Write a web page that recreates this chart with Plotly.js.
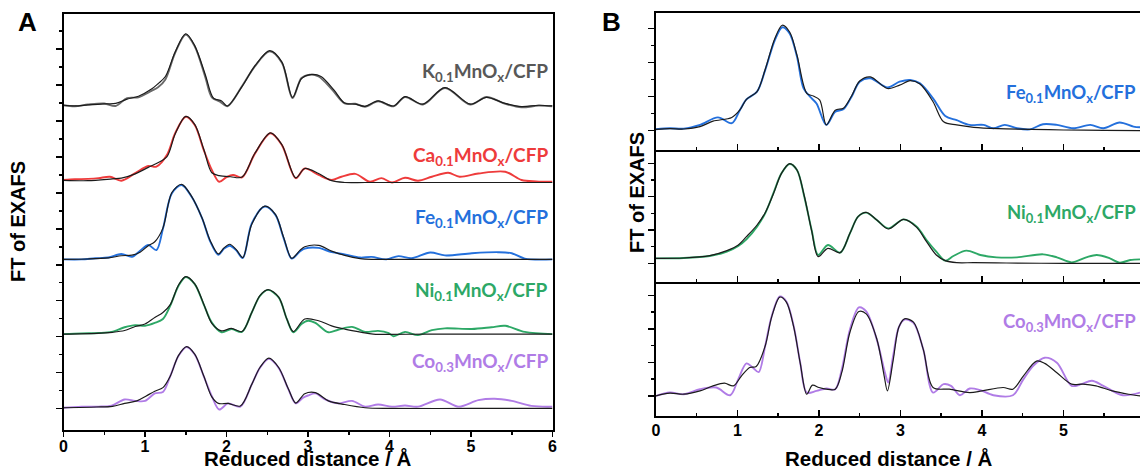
<!DOCTYPE html>
<html><head><meta charset="utf-8">
<script src="https://cdn.plot.ly/plotly-3.0.1.min.js"></script>
<style>html,body{margin:0;padding:0;background:#fff}#c{width:1140px;height:470px}</style>
</head><body><div id="c"></div>
<script>
// ---------- Panel A (stacked, offsets in arbitrary units) ----------
const samplesA = ["K", "Ca", "Fe", "Ni", "Co"];
const offsetsA = [8.44, 6.36, 4.15, 2.07, 0.02];

const aK_exp_r = [0,0.14,0.3,0.5,0.64,0.78,0.92,1.08,1.16,1.25,1.37,1.5,1.61,1.74,1.82,1.92,2.01,2.19,2.35,2.53,2.68,2.81,2.92,3.02,3.13,3.29,3.45,3.58,3.7,3.86,4.05,4.19,4.41,4.68,4.99,5.19,5.42,5.62,5.83,6.0];
const aK_exp_y = [0,-0.03,0.02,0.05,-0.02,0.2,0.22,0.4,0.5,0.72,1.46,1.97,1.64,0.78,0.22,0.1,-0.03,0.53,1.09,1.5,1.18,0.2,0.76,0.85,0.8,0.45,0.05,0.04,-0.04,0.11,-0.03,0.23,0.02,0.48,0.02,0.23,0.04,-0.06,-0.01,-0.03];
const aK_fit_r = [0,0.14,0.3,0.5,0.64,0.78,0.92,1.08,1.16,1.25,1.37,1.5,1.61,1.74,1.84,1.94,2.01,2.19,2.35,2.53,2.68,2.81,2.92,3.05,3.16,3.32,3.45,3.58,3.7,3.86,4.05,4.19,4.41,4.68,4.99,5.19,5.42,5.62,5.83,6.0];
const aK_fit_y = [0,-0.02,0.01,0.04,0.05,0.17,0.25,0.45,0.6,0.8,1.48,1.99,1.66,0.85,0.2,0.12,-0.02,0.52,1.1,1.52,1.2,0.22,0.74,0.86,0.8,0.42,0.06,0.03,-0.03,0.12,-0.02,0.24,0.03,0.49,0.03,0.22,0.05,-0.04,0.0,-0.02];

const aCa_exp_r = [0,0.14,0.3,0.43,0.57,0.71,0.88,1.04,1.14,1.27,1.37,1.5,1.61,1.72,1.82,1.91,2.0,2.08,2.19,2.35,2.54,2.68,2.85,2.96,3.13,3.29,3.41,3.58,3.76,3.9,4.03,4.19,4.35,4.52,4.72,4.86,5.09,5.42,5.62,5.8,6.0];
const aCa_exp_y = [0,0.02,0.03,0.05,0.09,-0.02,0.19,0.39,0.37,0.7,1.3,1.76,1.53,0.84,0.28,-0.05,0.08,0.14,0.07,0.74,1.3,0.97,0.05,0.32,0.14,0.0,0.09,0.17,-0.05,0.05,-0.07,0.06,-0.02,0.09,0.2,0.09,0.18,0.23,0.0,-0.04,-0.05];
const aCa_fit_r = [0,0.3,0.6,0.71,0.88,1.04,1.14,1.27,1.37,1.5,1.61,1.72,1.82,1.91,2.05,2.19,2.35,2.54,2.68,2.85,2.96,3.13,3.29,3.45,3.7,4.2,5.0,6.0];
const aCa_fit_y = [-0.01,-0.02,0.03,0.05,0.17,0.35,0.46,0.65,1.28,1.77,1.55,0.86,0.2,0.12,0.09,0.08,0.75,1.31,0.98,0.06,0.32,0.18,-0.02,-0.07,-0.07,-0.07,-0.07,-0.07];

const aFe_exp_r = [0,0.22,0.39,0.55,0.71,0.84,0.94,1.04,1.14,1.22,1.33,1.45,1.57,1.7,1.8,1.9,1.97,2.04,2.12,2.2,2.31,2.47,2.6,2.7,2.8,2.9,2.96,3.13,3.29,3.45,3.64,3.78,3.96,4.11,4.27,4.5,4.68,5.01,5.33,5.5,5.66,6.0];
const aFe_exp_y = [0,0.0,0.03,0.05,0.15,0.07,0.24,0.4,0.26,0.85,1.84,2.07,1.75,1.15,0.5,0.13,0.3,0.38,0.25,0.04,1.0,1.47,1.24,0.6,0.02,0.22,0.3,0.32,0.2,0.14,0.05,0.07,0.0,0.09,0.03,0.19,0.11,0.17,0.2,0.17,0.02,0.0];
const aFe_fit_r = [0,0.3,0.55,0.71,0.84,0.94,1.04,1.12,1.22,1.33,1.45,1.57,1.7,1.8,1.9,1.97,2.04,2.12,2.2,2.31,2.47,2.6,2.7,2.8,2.9,2.96,3.13,3.29,3.45,3.64,3.8,4.2,5.0,6.0];
const aFe_fit_y = [0,0.01,0.04,0.1,0.12,0.2,0.38,0.49,0.87,1.86,2.09,1.76,1.15,0.52,0.15,0.32,0.42,0.27,0.05,0.98,1.48,1.25,0.62,0.03,0.25,0.35,0.39,0.23,0.11,0.02,0.0,0.0,0.0,0.0];

const aNi_exp_r = [0,0.22,0.43,0.59,0.75,0.88,1.0,1.12,1.22,1.31,1.41,1.5,1.61,1.72,1.82,1.94,2.06,2.19,2.31,2.41,2.51,2.64,2.74,2.82,2.92,3.0,3.09,3.25,3.37,3.54,3.7,3.86,3.99,4.05,4.19,4.35,4.52,4.68,5.01,5.25,5.42,5.66,6.0];
const aNi_exp_y = [0,0.02,0.03,0.06,0.19,0.25,0.23,0.31,0.42,0.79,1.34,1.59,1.39,0.83,0.32,0.05,0.14,0.06,0.6,1.06,1.23,1.02,0.42,0.05,0.28,0.37,0.31,0.05,0.12,0.2,0.06,0.09,0.03,-0.06,0.06,-0.03,0.11,0.16,0.14,0.19,0.23,0.06,0.0];
const aNi_fit_r = [0,0.4,0.6,0.75,0.88,1.0,1.12,1.22,1.31,1.41,1.5,1.61,1.72,1.82,1.94,2.06,2.19,2.31,2.41,2.51,2.64,2.74,2.82,2.96,3.13,3.29,3.45,3.66,3.8,4.5,6.0];
const aNi_fit_y = [0,0.02,0.05,0.1,0.21,0.28,0.46,0.6,0.82,1.36,1.6,1.4,0.84,0.3,0.09,0.16,0.07,0.6,1.07,1.24,1.03,0.42,0.07,0.42,0.37,0.23,0.14,0.05,0.0,0.0,0.0];

const aCo_exp_r = [0,0.22,0.43,0.59,0.75,0.88,1.0,1.12,1.22,1.31,1.41,1.51,1.61,1.72,1.82,1.91,2.02,2.17,2.31,2.41,2.52,2.64,2.76,2.85,2.94,3.0,3.09,3.21,3.37,3.54,3.7,3.86,4.03,4.19,4.35,4.62,4.85,5.09,5.29,5.5,5.74,6.0];
const aCo_exp_y = [0,0.03,0.03,0.06,0.23,0.19,0.19,0.4,0.44,0.88,1.44,1.69,1.48,0.88,0.32,-0.05,0.12,0.03,0.65,1.11,1.36,1.11,0.51,0.12,0.28,0.34,0.4,0.23,0.12,0.19,0.03,0.09,0.03,0.06,0.03,0.23,0.03,0.21,0.25,0.19,0.05,0.03];
const aCo_fit_r = [0,0.4,0.6,0.75,0.9,1.01,1.12,1.22,1.31,1.41,1.51,1.61,1.72,1.82,1.9,2.02,2.17,2.31,2.41,2.52,2.64,2.76,2.85,2.96,3.09,3.25,3.45,3.7,4.0,5.0,6.0];
const aCo_fit_y = [0,0.02,0.04,0.12,0.19,0.32,0.46,0.56,0.88,1.45,1.7,1.49,0.89,0.3,0.12,0.12,0.05,0.65,1.12,1.38,1.12,0.52,0.13,0.39,0.42,0.19,0.09,0.0,-0.02,-0.02,-0.02];

// ---------- Panel B (three subplots) ----------
const bFe_exp_r = [0,0.17,0.34,0.54,0.76,0.93,1.03,1.11,1.24,1.34,1.46,1.55,1.64,1.73,1.81,1.89,1.97,2.09,2.2,2.3,2.4,2.5,2.63,2.84,2.99,3.12,3.24,3.4,3.55,3.69,3.85,4.02,4.14,4.28,4.43,4.59,4.75,4.92,5.12,5.33,5.49,5.69,5.86,5.94];
const bFe_exp_y = [0.04,0.07,0.06,0.17,0.39,0.22,0.61,0.92,1.15,1.78,2.67,3.04,2.86,2.18,1.25,1.0,0.8,0.17,0.56,0.63,1.0,1.44,1.54,1.27,1.44,1.49,1.39,0.95,0.43,0.31,0.17,0.17,0.07,0.17,0.07,0.04,0.19,0.17,0.07,0.17,0.07,0.24,0.12,0.1];
const bFe_fit_r = [0,0.17,0.34,0.54,0.7,0.93,1.03,1.11,1.24,1.34,1.46,1.55,1.64,1.73,1.85,1.93,2.01,2.09,2.2,2.3,2.4,2.5,2.63,2.84,2.99,3.12,3.24,3.4,3.53,3.69,3.9,4.2,4.6,5.0,5.5,5.94];
const bFe_fit_y = [0.04,0.06,0.05,0.12,0.28,0.39,0.61,0.92,1.15,1.8,2.72,3.1,2.9,2.22,1.1,1.02,0.9,0.17,0.6,0.66,1.02,1.46,1.58,1.24,1.34,1.47,1.37,0.85,0.26,0.17,0.1,0.06,0.04,0.02,0.01,0.0];

const bNi_exp_r = [0,0.34,0.66,0.87,1.01,1.11,1.24,1.34,1.44,1.54,1.64,1.73,1.82,1.91,1.99,2.11,2.26,2.38,2.48,2.58,2.71,2.85,3.04,3.2,3.32,3.44,3.55,3.65,3.81,3.98,4.18,4.43,4.75,4.92,5.1,5.28,5.41,5.57,5.69,5.82,5.94];
const bNi_exp_y = [0.15,0.16,0.22,0.35,0.52,0.72,1.1,1.5,2.1,2.7,2.98,2.8,2.0,1.0,0.25,0.55,0.32,0.9,1.4,1.52,1.3,1.05,1.32,1.1,0.7,0.35,0.08,0.22,0.38,0.25,0.18,0.18,0.27,0.18,0.03,0.18,0.25,0.15,0.02,0.1,0.12];
const bNi_fit_r = [0,0.34,0.66,0.87,1.01,1.11,1.24,1.34,1.44,1.54,1.64,1.73,1.82,1.91,1.99,2.11,2.26,2.38,2.48,2.58,2.71,2.85,3.04,3.2,3.32,3.44,3.55,3.69,3.9,4.3,5.0,5.94];
const bNi_fit_y = [0.15,0.16,0.23,0.38,0.55,0.8,1.15,1.52,2.08,2.7,2.99,2.8,2.02,0.98,0.2,0.45,0.32,0.9,1.4,1.53,1.3,1.03,1.32,1.08,0.65,0.25,0.08,0.02,0.02,0.01,0.0,0.0];

const bCo_exp_r = [0,0.17,0.34,0.54,0.74,0.91,1.01,1.11,1.19,1.26,1.34,1.42,1.52,1.6,1.69,1.77,1.85,1.97,2.09,2.2,2.28,2.38,2.49,2.58,2.71,2.81,2.85,2.91,2.98,3.05,3.16,3.28,3.4,3.53,3.62,3.73,3.85,3.97,4.14,4.38,4.51,4.63,4.77,4.92,5.1,5.22,5.35,5.49,5.73,5.94];
const bCo_exp_y = [0,0.1,0.05,0.2,0.25,0.02,0.5,0.97,0.84,0.71,1.49,2.38,2.97,2.82,2.08,0.99,0.1,0.15,0.22,0.2,0.79,1.98,2.64,2.52,1.68,0.69,0.4,1.19,2.05,2.28,2.18,1.39,0.1,0.35,0.3,0.02,0.22,0.18,0.02,0.02,0.5,0.9,1.14,0.99,0.3,0.35,0.45,0.3,0.02,0.1];
const bCo_fit_r = [0,0.17,0.34,0.54,0.7,0.84,0.95,1.05,1.15,1.23,1.34,1.42,1.52,1.6,1.69,1.77,1.85,1.92,2.0,2.09,2.2,2.28,2.38,2.49,2.58,2.71,2.8,2.84,2.91,2.98,3.05,3.16,3.28,3.4,3.6,3.85,4.0,4.26,4.38,4.51,4.67,4.77,4.92,5.1,5.24,5.4,5.6,5.8,5.94];
const bCo_fit_y = [0,0.08,0.05,0.15,0.3,0.38,0.3,0.6,0.85,0.88,1.49,2.36,2.95,2.8,2.06,0.98,0.05,0.32,0.25,0.2,0.2,0.7,1.9,2.52,2.45,1.7,0.6,0.15,1.05,2.05,2.3,2.2,1.39,0.25,0.2,0.1,0.15,0.25,0.2,0.6,1.04,0.97,0.69,0.35,0.35,0.3,0.15,0.05,0.0];

const labelsA = ["K<sub>0.1</sub>MnO<sub>x</sub>/CFP","Ca<sub>0.1</sub>MnO<sub>x</sub>/CFP","Fe<sub>0.1</sub>MnO<sub>x</sub>/CFP","Ni<sub>0.1</sub>MnO<sub>x</sub>/CFP","Co<sub>0.3</sub>MnO<sub>x</sub>/CFP"];
const labelsB = ["Fe<sub>0.1</sub>MnO<sub>x</sub>/CFP","Ni<sub>0.1</sub>MnO<sub>x</sub>/CFP","Co<sub>0.3</sub>MnO<sub>x</sub>/CFP"];
const xTicksA = [0, 1, 2, 3, 4, 5, 6];
const xTicksB = [0, 1, 2, 3, 4, 5];
const xTitle = "Reduced distance / Å";
const yTitle = "FT of EXAFS";

// ---------- styles ----------
const colA = ["#6a6a6a","#EE3B3B","#2470DC","#2DA866","#B07CE6"];
const txtA = ["#585858","#EE3B3B","#2470DC","#2DA866","#B07CE6"];
const colB = ["#2470DC","#2DA866","#B07CE6"];
const fitColor = "#1b1b1b";
const W = 1140, H = 470;
const px = v => v / W, py = v => 1 - v / H;

const expA = [[aK_exp_r,aK_exp_y],[aCa_exp_r,aCa_exp_y],[aFe_exp_r,aFe_exp_y],[aNi_exp_r,aNi_exp_y],[aCo_exp_r,aCo_exp_y]];
const fitA = [[aK_fit_r,aK_fit_y],[aCa_fit_r,aCa_fit_y],[aFe_fit_r,aFe_fit_y],[aNi_fit_r,aNi_fit_y],[aCo_fit_r,aCo_fit_y]];
const expB = [[bFe_exp_r,bFe_exp_y],[bNi_exp_r,bNi_exp_y],[bCo_exp_r,bCo_exp_y]];
const fitB = [[bFe_fit_r,bFe_fit_y],[bNi_fit_r,bNi_fit_y],[bCo_fit_r,bCo_fit_y]];

const traces = [];
const line = (c, w) => ({color: c, width: w, shape: 'spline', smoothing: 0.9});
samplesA.forEach((s, i) => {
  const off = offsetsA[i];
  traces.push({x: expA[i][0], y: expA[i][1].map(v => v + off), mode: 'lines', line: line(colA[i], 1.9), xaxis: 'x', yaxis: 'y', hoverinfo: 'skip'});
  traces.push({x: fitA[i][0], y: fitA[i][1].map(v => v + off), mode: 'lines', line: line(fitColor, 1.2), xaxis: 'x', yaxis: 'y', hoverinfo: 'skip'});
});
const bAxes = [['x2','y2'],['x3','y3'],['x4','y4']];
expB.forEach((d, i) => {
  traces.push({x: d[0], y: d[1], mode: 'lines', line: line(colB[i], 1.9), xaxis: bAxes[i][0], yaxis: bAxes[i][1], hoverinfo: 'skip'});
  traces.push({x: fitB[i][0], y: fitB[i][1], mode: 'lines', line: line(fitColor, 1.2), xaxis: bAxes[i][0], yaxis: bAxes[i][1], hoverinfo: 'skip'});
});

const tickFont = {family: 'Liberation Sans, Arial, sans-serif', size: 16, color: '#000', weight: 700};
const boldTxt = v => '<b>' + v + '</b>';
const baseAx = {showgrid: false, zeroline: false, showline: true, linecolor: '#000', linewidth: 2, tickcolor: '#000', tickwidth: 1.5, fixedrange: true};

const xDomA = [px(63.5), px(552.5)];
const xDomB = [px(656), 1];
const layout = {
  width: W, height: H, margin: {l: 0, r: 0, t: 0, b: 0},
  paper_bgcolor: '#fff', plot_bgcolor: '#fff', showlegend: false,
  xaxis: Object.assign({}, baseAx, {domain: xDomA, range: [0, 6], anchor: 'y', mirror: true, ticks: 'outside', ticklen: 5,
    tickmode: 'array', tickvals: xTicksA, ticktext: xTicksA.map(boldTxt), tickfont: tickFont, ticklabelstandoff: -4,
    minor: {dtick: 0.5, tick0: 0, ticks: 'outside', ticklen: 3, tickcolor: '#000', tickwidth: 1.5}}),
  yaxis: Object.assign({}, baseAx, {domain: [py(430), py(14)], range: [-0.6, 10.98], anchor: 'x', mirror: true, ticks: 'outside', ticklen: 6,
    tickmode: 'array', tickvals: [0,1,2,3,4,5,6,7,8,9,10], showticklabels: false,
    minor: {tickmode: 'array', tickvals: [0.5,1.5,2.5,3.5,4.5,5.5,6.5,7.5,8.5,9.5,10.5], ticks: 'outside', ticklen: 3, tickcolor: '#000', tickwidth: 1.5}}),
  annotations: [], shapes: []
};
const bY = [[py(150), py(13), [-0.568, 3.46]], [py(282), py(150), [-0.56, 3.40]], [py(416), py(282), [-0.6, 3.4]]];
bAxes.forEach((ax, i) => {
  const xn = 'xaxis' + ax[0].slice(1), yn = 'yaxis' + ax[1].slice(1);
  layout[xn] = Object.assign({}, baseAx, {domain: xDomB, range: [0, 5.94], anchor: ax[1], mirror: i === 0, ticks: 'inside', ticklen: 6,
    tickmode: 'array', tickvals: xTicksB, ticktext: xTicksB.map(boldTxt),
    showticklabels: i === 2, tickfont: tickFont, ticklabelstandoff: -1,
    minor: {dtick: 0.5, tick0: 0, ticks: 'inside', ticklen: 3, tickcolor: '#000', tickwidth: 1.5}});
  layout[yn] = Object.assign({}, baseAx, {domain: [bY[i][0], bY[i][1]], range: bY[i][2], anchor: ax[0], mirror: false, ticks: 'outside', ticklen: 6,
    tickmode: 'array', tickvals: [0,1,2,3], showticklabels: false,
    minor: {tickmode: 'array', tickvals: [0.5,1.5,2.5,3.5], ticks: 'outside', ticklen: 3, tickcolor: '#000', tickwidth: 1.5}});
});

const ann = (x, y, text, font, extra) => Object.assign({xref: 'paper', yref: 'paper', x: px(x), y: py(y), text: text, showarrow: false, font: font, xanchor: 'center', yanchor: 'middle', borderpad: 0}, extra || {});
const boldF = s => ({family: 'Liberation Sans, Arial, sans-serif', size: s, color: '#000', weight: 700});
layout.annotations.push(ann(27, 22, '<b>A</b>', boldF(26)));
layout.annotations.push(ann(611, 22, '<b>B</b>', boldF(26)));
layout.annotations.push(ann(18, 222, '<b>' + yTitle + '</b>', boldF(20), {textangle: -90}));
layout.annotations.push(ann(637, 193, '<b>' + yTitle + '</b>', boldF(20), {textangle: -90}));
layout.annotations.push(ann(308, 458, '<b>' + xTitle + '</b>', boldF(20.5)));
layout.annotations.push(ann(889, 458, '<b>' + xTitle + '</b>', boldF(20.5)));
const labYA = [72, 156, 218, 291, 362];
labelsA.forEach((t, i) => layout.annotations.push(ann(549, labYA[i], t, {family: 'Lato, Open Sans, sans-serif', size: 19, color: txtA[i], weight: 700}, {xanchor: 'right'})));
const labYB = [93, 213, 322];
labelsB.forEach((t, i) => layout.annotations.push(ann(1137, labYB[i], t, {family: 'Lato, Open Sans, sans-serif', size: 18.5, color: colB[i], weight: 700}, {xanchor: 'right'})));

Plotly.newPlot('c', traces, layout, {staticPlot: true, displayModeBar: false});
</script></body></html>
